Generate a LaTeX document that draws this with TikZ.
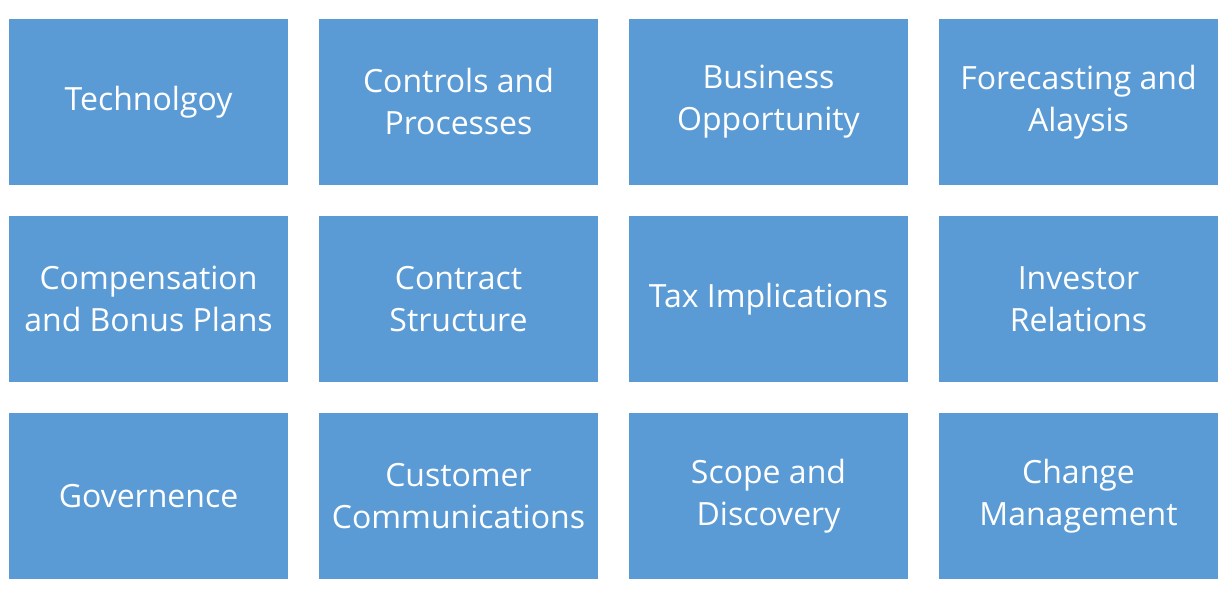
\documentclass[tikz,border=0pt]{standalone}
\usepackage{fontspec}
\setmainfont{Open Sans}
\usepackage{tikz}
\usepackage{xcolor}
\usetikzlibrary{positioning}
\definecolor{cTile}{RGB}{91,155,213}
\tikzset{
	tile/.style={rectangle, fill=cTile, draw=none, minimum width=279pt, minimum height=166pt, inner sep=0pt, outer sep=0pt, text=white, align=center, font=\fontsize{32}{42}\selectfont},
}
\begin{document}
\begin{tikzpicture}[x=1pt, y=-1pt, node distance=31pt]
	\useasboundingbox (0,0) rectangle (1227,596);
	% first row
	\node[tile] (tech) at (148.5,102) {Technolgoy};
	\node[tile, right=of tech] (ctrl) {Controls and\\Processes};
	\node[tile, right=of ctrl] (biz) {Business\\Opportunity};
	\node[tile, right=of biz] (fore) {Forecasting and\\Alaysis};
	% second row
	\node[tile, below=of tech] (comp) {Compensation\\and Bonus Plans};
	\node[tile, right=of comp] (contr) {Contract\\Structure};
	\node[tile, right=of contr] (tax) {Tax Implications};
	\node[tile, right=of tax] (inv) {Investor\\Relations};
	% third row
	\node[tile, below=of comp] (gov) {Governence};
	\node[tile, right=of gov] (cust) {Customer\\Communications};
	\node[tile, right=of cust] (scope) {Scope and\\Discovery};
	\node[tile, right=of scope] (chg) {Change\\Management};
\end{tikzpicture}
\end{document}
